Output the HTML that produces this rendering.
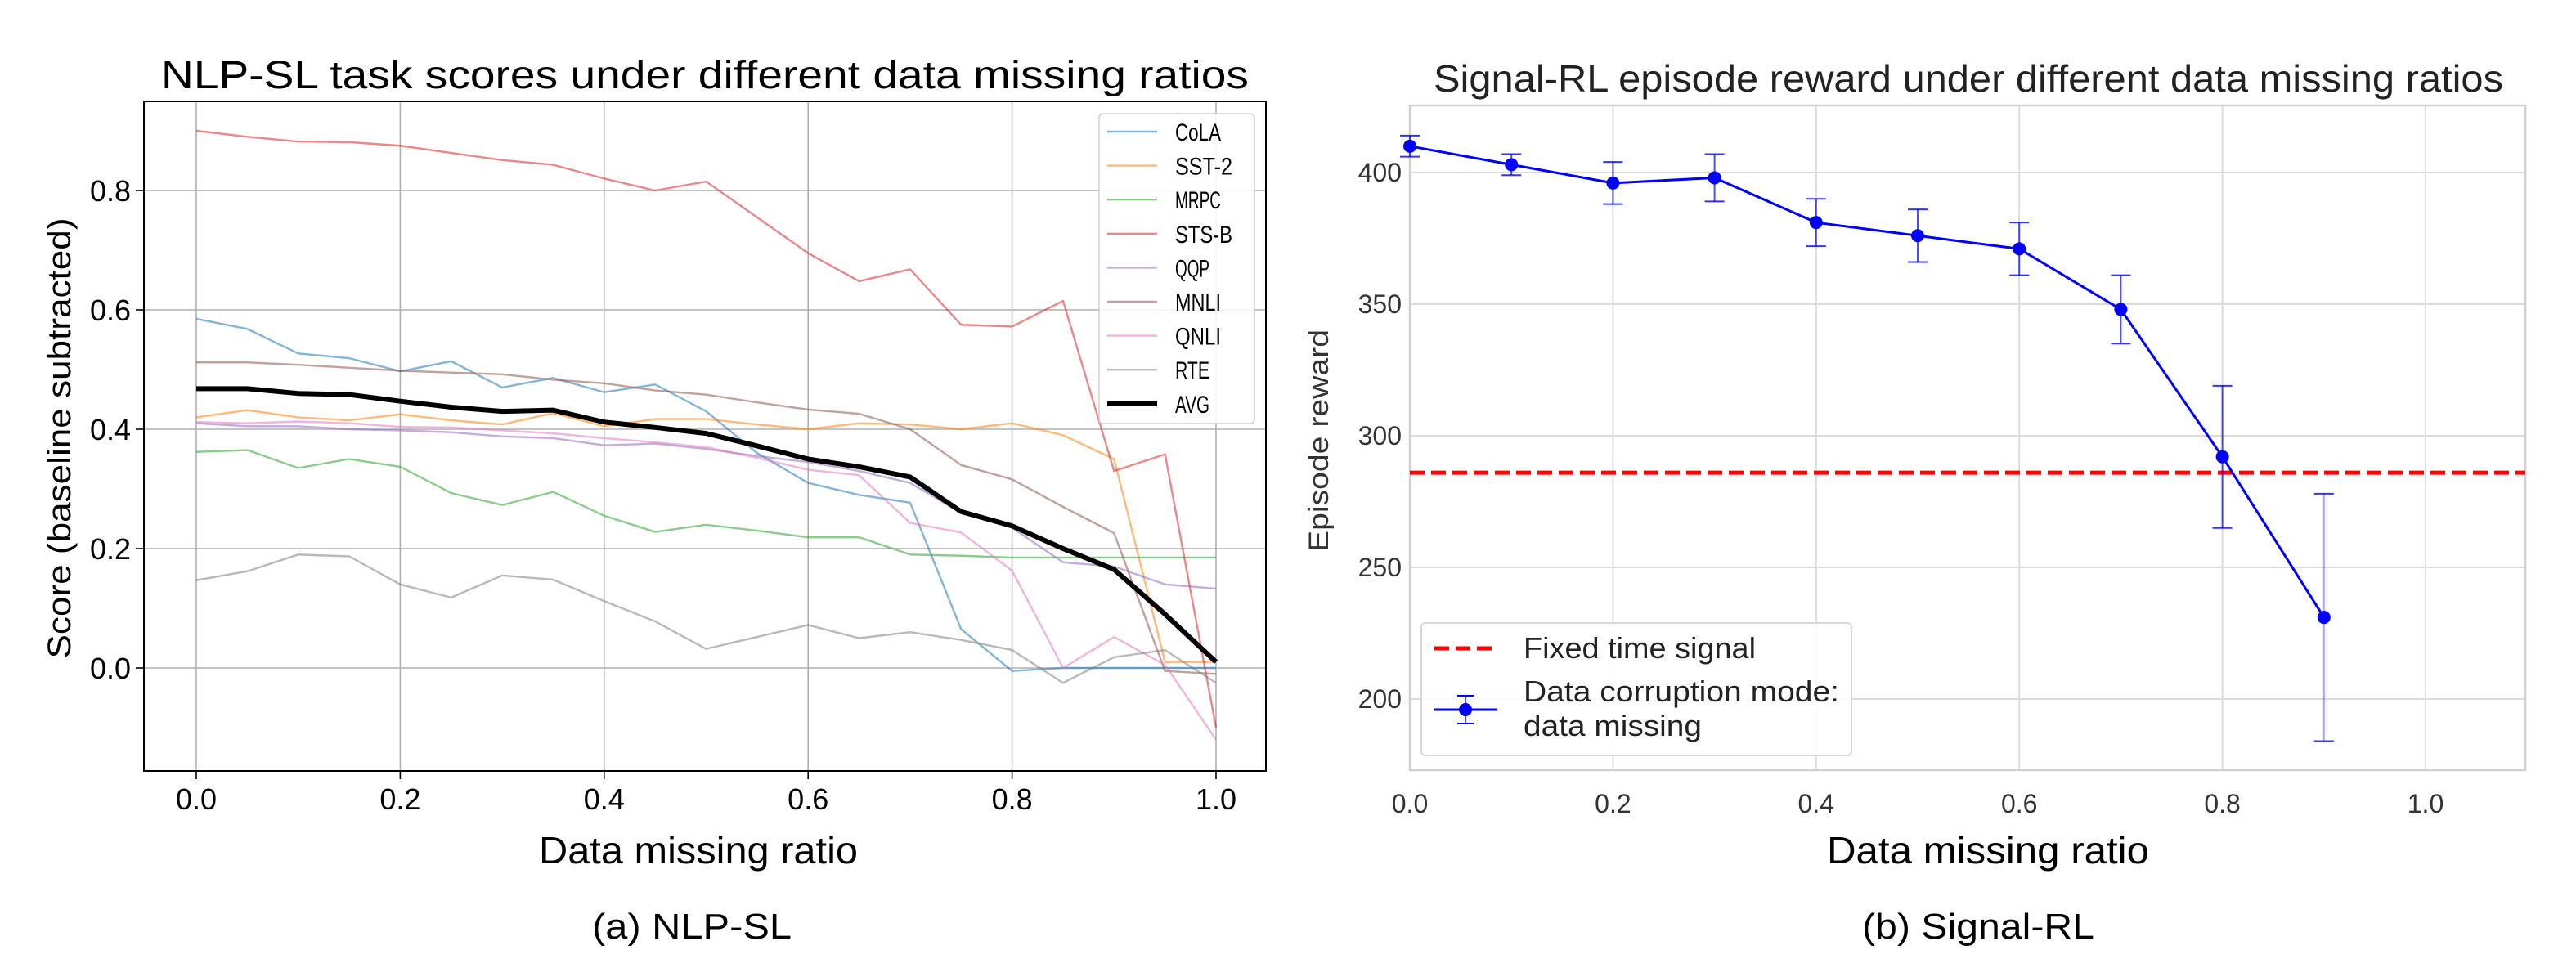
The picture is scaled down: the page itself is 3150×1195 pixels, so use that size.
<!DOCTYPE html>
<html><head><meta charset="utf-8"><style>
html,body{margin:0;padding:0;background:#fff;}
svg{display:block;font-family:"Liberation Sans",sans-serif;}
</style></head><body>
<svg id="fig" width="3150" height="1195" viewBox="0 0 3150 1195" xmlns="http://www.w3.org/2000/svg">
<rect width="3150" height="1195" fill="#fff"/>
<g id="left"></g>
<g id="right"></g>
<text x="854" y="1056" font-size="46" text-anchor="middle" textLength="390" lengthAdjust="spacingAndGlyphs">Data missing ratio</text>
<text x="2431" y="1056" font-size="46" text-anchor="middle" textLength="394" lengthAdjust="spacingAndGlyphs">Data missing ratio</text>
<text x="846" y="1148" font-size="44" text-anchor="middle" textLength="244" lengthAdjust="spacingAndGlyphs">(a) NLP-SL</text>
<text x="2419" y="1148" font-size="44" text-anchor="middle" textLength="284" lengthAdjust="spacingAndGlyphs">(b) Signal-RL</text>
</svg>
<script>
const NS="http://www.w3.org/2000/svg";
// ---- Left chart data ----
const leftX=[0,0.05,0.1,0.15,0.2,0.25,0.3,0.35,0.4,0.45,0.5,0.55,0.6,0.65,0.7,0.75,0.8,0.85,0.9,0.95,1.0];
const seriesNames=["CoLA","SST-2","MRPC","STS-B","QQP","MNLI","QNLI","RTE","AVG"];
const cola=[0.585,0.568,0.527,0.519,0.497,0.514,0.47,0.486,0.462,0.475,0.43,0.36,0.31,0.29,0.277,0.065,-0.005,0.0,0.0,0.0,0.0];
const sst2=[0.42,0.432,0.42,0.415,0.425,0.415,0.408,0.427,0.405,0.417,0.417,0.408,0.40,0.41,0.408,0.40,0.41,0.39,0.35,0.01,0.01];
const mrpc=[0.362,0.365,0.335,0.35,0.337,0.293,0.273,0.295,0.255,0.228,0.24,0.23,0.219,0.219,0.19,0.188,0.185,0.185,0.185,0.185,0.185];
const stsb=[0.90,0.89,0.882,0.881,0.875,0.863,0.851,0.843,0.82,0.80,0.815,0.755,0.695,0.648,0.668,0.575,0.572,0.615,0.33,0.358,-0.10];
const qqp=[0.41,0.405,0.405,0.4,0.398,0.395,0.388,0.385,0.373,0.376,0.367,0.355,0.345,0.33,0.31,0.26,0.235,0.177,0.17,0.14,0.133];
const mnli=[0.512,0.512,0.508,0.503,0.498,0.495,0.492,0.483,0.477,0.465,0.458,0.445,0.433,0.426,0.4,0.34,0.316,0.27,0.226,-0.005,-0.01];
const qnli=[0.412,0.41,0.413,0.41,0.404,0.403,0.398,0.393,0.385,0.378,0.37,0.352,0.332,0.323,0.243,0.227,0.163,0.0,0.052,0.005,-0.12];
const rte=[0.147,0.162,0.19,0.187,0.14,0.118,0.155,0.148,0.112,0.078,0.032,0.052,0.072,0.05,0.06,0.047,0.03,-0.025,0.018,0.03,-0.025];
const avg=[0.468,0.468,0.46,0.458,0.447,0.437,0.43,0.432,0.412,0.403,0.393,0.372,0.35,0.337,0.32,0.262,0.238,0.2,0.165,0.09,0.01];
const leftXTicks=["0.0","0.2","0.4","0.6","0.8","1.0"];
const leftYTicks=["0.0","0.2","0.4","0.6","0.8"];
// ---- Right chart data ----
const rightX=[0,0.1,0.2,0.3,0.4,0.5,0.6,0.7,0.8,0.9];
const reward=[410,403,396,398,381,376,371,348,292,231];
const rewardErr=[4,4,8,9,9,10,10,13,27,47];
const fixedSignal=[286];
const rightXTicks=["0.0","0.2","0.4","0.6","0.8","1.0"];
const rightYTicks=["200","250","300","350","400"];

function mk(parent,tag,attrs,text){const e=document.createElementNS(NS,tag);for(const k in attrs)e.setAttribute(k,attrs[k]);if(text!==undefined)e.textContent=text;parent.appendChild(e);return e;}

// ===== LEFT =====
(function(){
const g=document.getElementById('left');
const L=176,R=1548,T=124,B=943;
const x=v=>240+v*(1487-240);
const y=v=>817-v*730;
mk(g,'text',{x:862,y:108,'font-size':48,'text-anchor':'middle',textLength:1330,lengthAdjust:'spacingAndGlyphs',},'NLP-SL task scores under different data missing ratios');
leftXTicks.forEach(t=>{const v=parseFloat(t);
 const l=mk(g,'line',{x1:x(v),x2:x(v),y1:T,y2:B,stroke:'#b0b0b0','stroke-width':1.6});
 
 mk(g,'line',{x1:x(v),x2:x(v),y1:B,y2:B+10,stroke:'#000','stroke-width':1.6});
 const tx=mk(g,'text',{x:x(v),y:990,'font-size':36,'text-anchor':'middle'},t);
 });
leftYTicks.forEach(t=>{const v=parseFloat(t);
 const l=mk(g,'line',{x1:L,x2:R,y1:y(v),y2:y(v),stroke:'#b0b0b0','stroke-width':1.6});
 
 mk(g,'line',{x1:L-10,x2:L,y1:y(v),y2:y(v),stroke:'#000','stroke-width':1.6});
 const tx=mk(g,'text',{x:L-16,y:y(v)+13,'font-size':36,'text-anchor':'end'},t);
 });
const cols=['#1f77b4','#ff7f0e','#2ca02c','#d62728','#9467bd','#8c564b','#e377c2','#7f7f7f','#000'];
const data=[cola,sst2,mrpc,stsb,qqp,mnli,qnli,rte,avg];
data.forEach((s,i)=>{const isAvg=i===8;
 const p=mk(g,'polyline',{points:s.map((v,j)=>x(leftX[j])+','+y(v)).join(' '),fill:'none',stroke:cols[i],'stroke-width':isAvg?6:2.4,'stroke-opacity':isAvg?1:0.55,'stroke-linejoin':'round'});
 });
const ax=mk(g,'rect',{x:L,y:T,width:R-L,height:B-T,fill:'none',stroke:'#000','stroke-width':2});

const yl=mk(g,'text',{transform:'translate(86,536) rotate(-90)','font-size':40,'text-anchor':'middle',textLength:539,lengthAdjust:'spacingAndGlyphs'},'Score (baseline subtracted)');

const lg=mk(g,'g',{});

mk(lg,'rect',{x:1344,y:139,width:190,height:379,rx:5,fill:'#fff','fill-opacity':0.85,stroke:'#d0d0d0','stroke-width':1.5});
seriesNames.forEach((n,i)=>{const yy=161+i*41.6;const isAvg=i===8;
 const e=mk(lg,'g',{});
 
 mk(e,'line',{x1:1354,x2:1415,y1:yy,y2:yy,stroke:cols[i],'stroke-width':isAvg?6:2.4,'stroke-opacity':isAvg?1:0.55});
 mk(e,'text',{x:1437,y:yy+11,'font-size':30,textLength:n.length*14,lengthAdjust:'spacingAndGlyphs'},n);});
})();

// ===== RIGHT =====
(function(){
const g=document.getElementById('right');
const L=1724,R=3088,T=129,B=942;
const x=v=>1724+v*(2966-1724);
const y=v=>211+(400-v)*(855-211)/200;
mk(g,'text',{x:2407,y:112,'font-size':46,'text-anchor':'middle',fill:'#222',textLength:1308,lengthAdjust:'spacingAndGlyphs',},'Signal-RL episode reward under different data missing ratios');
rightXTicks.forEach(t=>{const v=parseFloat(t);
 const l=mk(g,'line',{x1:x(v),x2:x(v),y1:T,y2:B,stroke:'#dcdcdc','stroke-width':2});
 
 const tx=mk(g,'text',{x:x(v),y:994,'font-size':32,'text-anchor':'middle',fill:'#333'},t);
 });
rightYTicks.forEach(t=>{const v=parseFloat(t);
 const l=mk(g,'line',{x1:L,x2:R,y1:y(v),y2:y(v),stroke:'#dcdcdc','stroke-width':2});
 
 const tx=mk(g,'text',{x:L-10,y:y(v)+11,'font-size':32,'text-anchor':'end',fill:'#333'},t);
 });
const ax=mk(g,'rect',{x:L,y:T,width:R-L,height:B-T,fill:'none',stroke:'#d0d0d0','stroke-width':2.5});

const fl=mk(g,'line',{x1:L,x2:R,y1:y(fixedSignal[0]),y2:y(fixedSignal[0]),stroke:'#ff0000','stroke-width':5,'stroke-dasharray':'18 8'});

rewardErr.forEach((e,i)=>{const cx=x(rightX[i]);const y1=y(reward[i]+e),y2=y(reward[i]-e);
 const eb=mk(g,'g',{stroke:'#0000ff','stroke-opacity':e>30?0.35:0.7,'stroke-width':2});
 
 mk(eb,'line',{x1:cx,x2:cx,y1:y1,y2:y2});
 mk(eb,'line',{x1:cx-12,x2:cx+12,y1:y1,y2:y1,'stroke-opacity':0.8});
 mk(eb,'line',{x1:cx-12,x2:cx+12,y1:y2,y2:y2,'stroke-opacity':0.8});});
const ln=mk(g,'polyline',{points:reward.map((v,i)=>x(rightX[i])+','+y(v)).join(' '),fill:'none',stroke:'#0000ff','stroke-width':3});

reward.forEach((v,i)=>{const c=mk(g,'circle',{cx:x(rightX[i]),cy:y(v),r:8,fill:'#0000ff'});
 });
const yl=mk(g,'text',{transform:'translate(1624,539) rotate(-90)','font-size':34,'text-anchor':'middle',fill:'#333',textLength:272,lengthAdjust:'spacingAndGlyphs'},'Episode reward');

const lg=mk(g,'g',{});

mk(lg,'rect',{x:1738,y:762,width:526,height:162,rx:5,fill:'#fff','fill-opacity':0.85,stroke:'#d8d8d8','stroke-width':2});
const e1=mk(lg,'g',{});

mk(e1,'line',{x1:1754,x2:1831,y1:793,y2:793,stroke:'#ff0000','stroke-width':5,'stroke-dasharray':'18 8'});
mk(e1,'text',{x:1863,y:805,'font-size':36,fill:'#222',textLength:284,lengthAdjust:'spacingAndGlyphs'},'Fixed time signal');
const e2=mk(lg,'g',{});

mk(e2,'line',{x1:1754,x2:1831,y1:868,y2:868,stroke:'#0000ff','stroke-width':3});
mk(e2,'line',{x1:1792,x2:1792,y1:851,y2:885,stroke:'#0000ff','stroke-width':2,'stroke-opacity':0.7});
mk(e2,'line',{x1:1782,x2:1802,y1:851,y2:851,stroke:'#0000ff','stroke-width':2});
mk(e2,'line',{x1:1782,x2:1802,y1:885,y2:885,stroke:'#0000ff','stroke-width':2});
mk(e2,'circle',{cx:1792,cy:868,r:8,fill:'#0000ff'});
mk(e2,'text',{x:1863,y:858,'font-size':36,fill:'#222',textLength:386,lengthAdjust:'spacingAndGlyphs'},'Data corruption mode:');
mk(e2,'text',{x:1863,y:900,'font-size':36,fill:'#222',textLength:218,lengthAdjust:'spacingAndGlyphs'},'data missing');
})();
</script>
</body></html>
